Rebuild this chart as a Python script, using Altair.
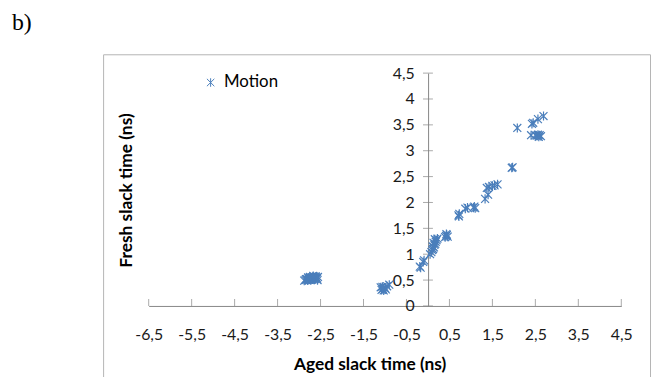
import altair as alt
import pandas as pd

STAR = "M-1,-1L1,1M-1,1L1,-1M0,-1.15L0,1.15"
BLUE = "#4A7EBB"
GRID = "#868686"

aged = [
    -2.88, -2.85, -2.82, -2.80, -2.78, -2.76, -2.74, -2.72, -2.70, -2.68,
    -2.66, -2.64, -2.62, -2.60, -2.58, -2.56, -2.84, -2.79, -2.73, -2.69,
    -2.65, -2.61, -2.57, -2.75, -2.67,
    -1.10, -1.08, -1.05, -1.03, -1.00, -0.98, -0.95, -0.90, -1.06,
    -0.19, -0.17, -0.11, -0.09, 0.05, 0.08, 0.10, 0.12, 0.14, 0.15, 0.17,
    0.18, 0.20, 0.22, 0.16, 0.13, 0.11, 0.40, 0.42, 0.44, 0.46, 0.43,
    0.71, 0.73, 0.72, 0.87, 0.92, 1.06, 1.08, 1.10, 1.33, 1.40, 1.37, 1.42,
    1.50, 1.55, 1.62, 1.95, 1.97,
    2.08, 2.42, 2.45, 2.56, 2.69, 2.40, 2.50, 2.53, 2.56, 2.60, 2.63, 2.58,
]
fresh = [
    0.49, 0.50, 0.52, 0.50, 0.53, 0.51, 0.54, 0.52, 0.55, 0.53,
    0.56, 0.54, 0.52, 0.55, 0.53, 0.56, 0.52, 0.55, 0.50, 0.51,
    0.53, 0.57, 0.50, 0.56, 0.58,
    0.36, 0.31, 0.33, 0.30, 0.35, 0.32, 0.38, 0.41, 0.37,
    0.76, 0.74, 0.85, 0.88, 1.00, 1.04, 1.08, 1.10, 1.13, 1.18, 1.20,
    1.24, 1.27, 1.30, 1.29, 1.22, 1.15, 1.33, 1.35, 1.37, 1.34, 1.39,
    1.75, 1.78, 1.73, 1.88, 1.90, 1.90, 1.92, 1.89, 2.07, 2.15, 2.28, 2.30,
    2.32, 2.33, 2.35, 2.67, 2.68,
    3.44, 3.52, 3.54, 3.61, 3.67, 3.30, 3.30, 3.29, 3.31, 3.30, 3.28, 3.27,
]
series = ["Motion"] * len(aged)

x_ticks = [-6.5, -5.5, -4.5, -3.5, -2.5, -1.5, -0.5, 0.5, 1.5, 2.5, 3.5, 4.5]
y_ticks = [0, 0.5, 1, 1.5, 2, 2.5, 3, 3.5, 4, 4.5]

df = pd.DataFrame({"aged": aged, "fresh": fresh, "series": series})

W, H = 477, 235
FONT = "Lato"

x_axis = alt.Axis(
    values=x_ticks, ticks=False, grid=False, domainColor=GRID,
    labelExpr="replace(toString(datum.value), '.', ',')",
    labelFont=FONT, labelFontSize=16, labelColor="#1a1a1a", labelPadding=21,
    labelFlush=False,
    title="Aged slack time (ns)", titleFont=FONT, titleFontSize=17.5,
    titleFontWeight="bold", titleColor="#000000",
    titleX=223, titleY=59, titleBaseline="middle", titleAlign="center",
)
y_axis = alt.Axis(
    values=y_ticks, ticks=False, grid=False, domainColor=GRID,
    offset=-282,
    labelExpr="replace(toString(datum.value), '.', ',')",
    labelFont=FONT, labelFontSize=16, labelColor="#1a1a1a", labelPadding=14,
    labelFlush=False,
    title="Fresh slack time (ns)", titleFont=FONT, titleFontSize=17.5,
    titleFontWeight="bold", titleColor="#000000",
    titleX=-304, titleY=118, titleAngle=270, titleAlign="center",
    titleBaseline="middle",
)
xs = alt.Scale(domain=[-6.5, 4.5], nice=False, zero=False)
ys = alt.Scale(domain=[0, 4.5], nice=False, zero=False)
X = alt.X("aged:Q", scale=xs, axis=x_axis)
Y = alt.Y("fresh:Q", scale=ys, axis=y_axis)

border = alt.Chart(alt.Data(values=[{}])).mark_rect(
    fillOpacity=0, stroke="#b4b4b4", strokeWidth=1
).encode(
    x=alt.value(-45.5), x2=alt.value(506.5), y=alt.value(-18.5), y2=alt.value(400)
)

label_b = alt.Chart(alt.Data(values=[{}])).mark_text(
    text="b)", font="Liberation Serif", fontSize=24, align="left",
    baseline="alphabetic", color="#000000"
).encode(x=alt.value(-138), y=alt.value(-43.5))

xt = pd.DataFrame({"aged": x_ticks, "fresh": [0] * len(x_ticks)})
yt = pd.DataFrame({"aged": [0] * len(y_ticks), "fresh": y_ticks})

x_tick_layer = alt.Chart(xt).mark_tick(
    orient="vertical", size=7, thickness=1, color=GRID, yOffset=-3.5
).encode(x=X, y=Y)
y_tick_layer = alt.Chart(yt).mark_tick(
    orient="horizontal", size=10, thickness=1, color=GRID
).encode(x=X, y=Y)

points = alt.Chart(df).mark_point(
    shape=STAR, filled=False, size=64, strokeWidth=1.2, opacity=1
).encode(
    x=X, y=Y,
    color=alt.Color(
        "series:N", scale=alt.Scale(range=[BLUE]),
        legend=alt.Legend(
            title=None, orient="none", legendX=54, legendY=1,
            symbolType=STAR, symbolSize=56, symbolStrokeWidth=1,
            labelFont=FONT, labelFontSize=17, labelColor="#000000",
            labelOffset=5,
        ),
    ),
)

chart = alt.layer(border, label_b, x_tick_layer, y_tick_layer, points).properties(
    width=W, height=H,
    autosize=alt.AutoSizeParams(type="none"),
    padding={"left": 142, "top": 64, "right": 31, "bottom": 70},
).configure_view(stroke=None)

chart.save("out.html", embed_options={"renderer": "svg", "actions": False})
